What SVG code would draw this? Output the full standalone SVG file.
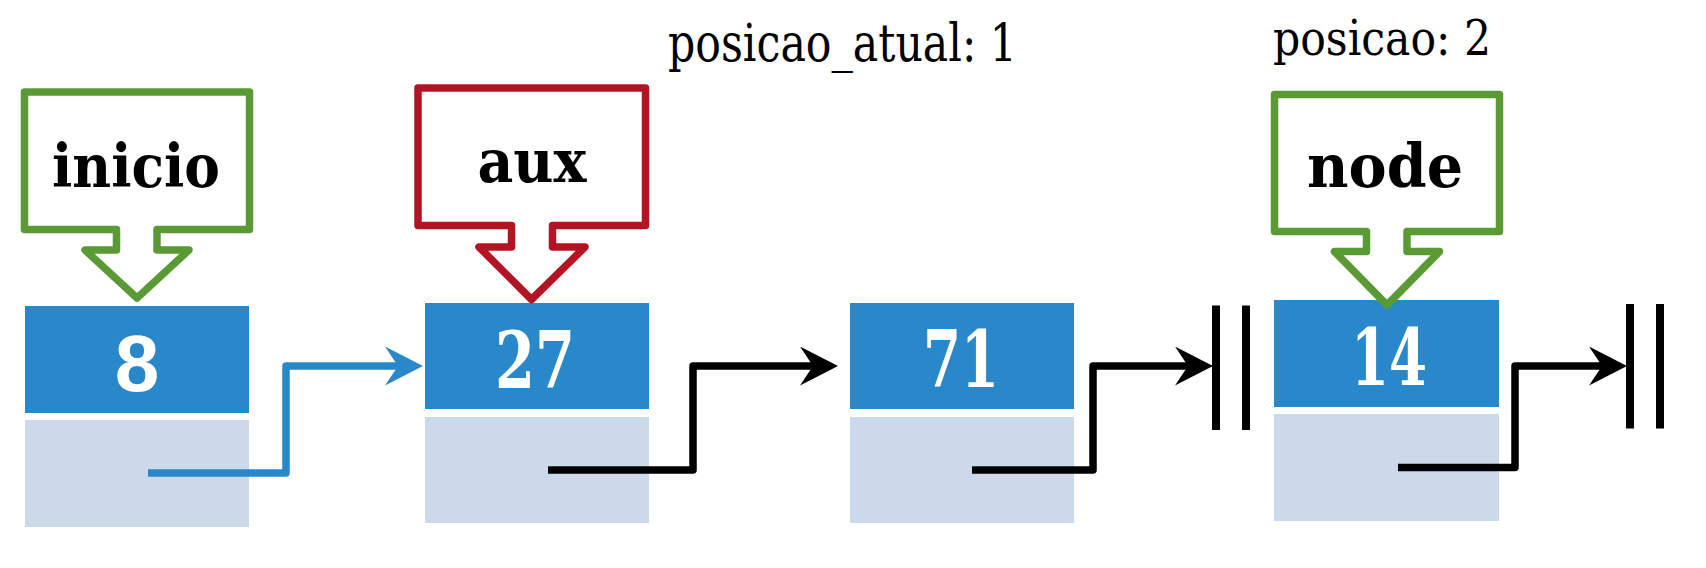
<svg xmlns="http://www.w3.org/2000/svg" width="1706" height="568" viewBox="0 0 1706 568">
<style>
.data{fill:#2888CA}
.next{fill:#CCD9EB}
.num{font-family:"DejaVu Serif","Liberation Serif",serif;font-weight:bold;font-size:78px;fill:#fff;text-anchor:middle}
.num8{font-family:"Liberation Sans",Arial,sans-serif;font-weight:bold;font-size:80px;fill:#fff;text-anchor:middle}
.lbl{font-family:"DejaVu Serif","Liberation Serif",serif;font-weight:bold;font-size:60px;fill:#000;text-anchor:middle}
.pos{font-family:"DejaVu Serif","Liberation Serif",serif;font-size:52px;fill:#000}
.callout{fill:#fff;stroke-width:7.5;stroke-linejoin:round}
.green{stroke:#5A9A34}
.red{stroke:#B21424}
.line{fill:none;stroke-width:7.5;stroke-linejoin:round}
.blk{stroke:#000}
.blu{stroke:#2888CA}
.bar{fill:#000}
</style>
<defs>
<marker id="ahBlack" markerUnits="userSpaceOnUse" viewBox="0 0 40 40" markerWidth="40" markerHeight="40" refX="13" refY="19.5" orient="auto">
<path d="M0,0 L38,19.5 L0,39 L13,19.5 Z" fill="#000"/>
</marker>
<marker id="ahBlue" markerUnits="userSpaceOnUse" viewBox="0 0 40 40" markerWidth="40" markerHeight="40" refX="13" refY="19.5" orient="auto">
<path d="M0,0 L38,19.5 L0,39 L13,19.5 Z" fill="#2888CA"/>
</marker>
</defs>

<text class="pos" x="668" y="61" textLength="349" lengthAdjust="spacingAndGlyphs">posicao_atual: 1</text>
<text class="pos" x="1273" y="55" textLength="218" lengthAdjust="spacingAndGlyphs" style="font-size:48px">posicao: 2</text>

<g id="node1">
<rect class="data" x="25" y="306" width="224" height="107"/>
<rect class="next" x="25" y="420" width="224" height="107"/>
<text class="num8" x="137" y="391">8</text>
</g>
<g id="node2">
<rect class="data" x="425" y="303" width="224" height="106"/>
<rect class="next" x="425" y="417" width="224" height="106"/>
<text class="num" x="535" y="388" textLength="80" lengthAdjust="spacingAndGlyphs">27</text>
</g>
<g id="node3">
<rect class="data" x="850" y="303" width="224" height="106"/>
<rect class="next" x="850" y="417" width="224" height="106"/>
<text class="num" x="961" y="387" textLength="76" lengthAdjust="spacingAndGlyphs">71</text>
</g>
<g id="node4">
<rect class="data" x="1274" y="300" width="225" height="107"/>
<rect class="next" x="1274" y="414" width="225" height="107"/>
<text class="num" x="1389" y="385" textLength="76" lengthAdjust="spacingAndGlyphs">14</text>
</g>

<g id="ptr-inicio">
<path class="callout green" d="M24.5,92 H249.5 V229.5 H157 V250 H189 L137,298 L85,250 H116.5 V229.5 H24.5 Z"/>
<text class="lbl" x="136" y="187" textLength="168" lengthAdjust="spacingAndGlyphs">inicio</text>
</g>
<g id="ptr-aux">
<path class="callout red" d="M418,88 H645.5 V225.5 H552.5 V247 H585 L531.5,299.5 L479,247 H511.5 V225.5 H418 Z"/>
<text class="lbl" x="532" y="182" textLength="109" lengthAdjust="spacingAndGlyphs">aux</text>
</g>
<g id="ptr-node">
<path class="callout green" d="M1274.5,94.5 H1499.5 V231.5 H1407 V251.5 H1439.5 L1387,305 L1334.5,251.5 H1366.5 V231.5 H1274.5 Z"/>
<text class="lbl" x="1385" y="187" textLength="156" lengthAdjust="spacingAndGlyphs">node</text>
</g>

<g id="connectors">
<polyline class="line blu" points="148,473 286,473 286,366 398,366" marker-end="url(#ahBlue)"/>
<polyline class="line blk" points="548,470 693,470 693,366 813,366" marker-end="url(#ahBlack)"/>
<polyline class="line blk" points="972,470 1093,470 1093,366 1188,366" marker-end="url(#ahBlack)"/>
<polyline class="line blk" points="1398,467.5 1515,467.5 1515,366 1602,366" marker-end="url(#ahBlack)"/>
<rect class="bar" x="1212" y="305.5" width="8" height="124.5"/>
<rect class="bar" x="1242" y="305.5" width="8" height="124.5"/>
<rect class="bar" x="1626" y="304" width="8" height="124.5"/>
<rect class="bar" x="1656" y="304" width="8" height="124.5"/>
</g>
</svg>
